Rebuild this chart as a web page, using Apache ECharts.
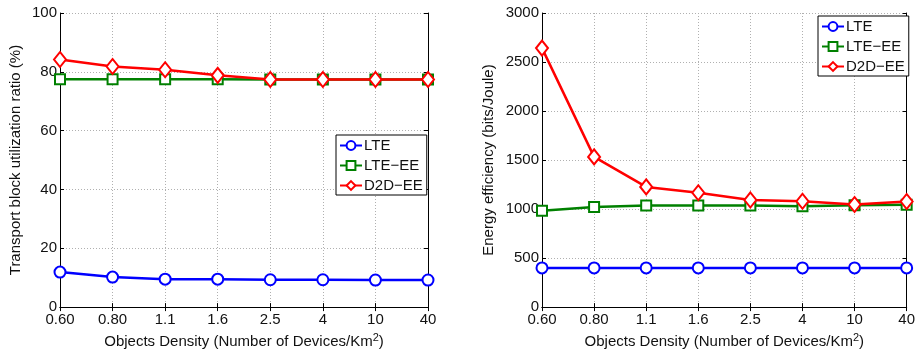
<!DOCTYPE html>
<html>
<head>
<meta charset="utf-8">
<script src="https://cdn.jsdelivr.net/npm/echarts@6/dist/echarts.min.js"></script>
<style>
html, body { margin: 0; padding: 0; background: #fff; }
#chart { width: 918px; height: 356px; }
</style>
</head>
<body>
<div id="chart"></div>
<script>
// Device density categories (devices per km^2)
const categories = ['0.60', '0.80', '1.1', '1.6', '2.5', '4', '10', '40'];
const seriesNames = ['LTE', 'LTE\u2212EE', 'D2D\u2212EE'];

// Transport block utilization ratio (%)
const utilLTE   = [11.9, 10.2, 9.5, 9.5, 9.3, 9.3, 9.2, 9.2];
const utilLTEEE = [77.5, 77.5, 77.5, 77.5, 77.4, 77.4, 77.4, 77.4];
const utilD2D   = [84.2, 81.8, 80.7, 78.8, 77.4, 77.4, 77.4, 77.4];

// Energy efficiency (bits/Joule)
const effLTE    = [400, 400, 400, 400, 400, 400, 400, 400];
const effLTEEE  = [984, 1020, 1037, 1037, 1037, 1030, 1040, 1043];
const effD2D    = [2642, 1532, 1226, 1166, 1093, 1080, 1047, 1077];

const FONT = 'Liberation Sans, Arial, Helvetica, sans-serif';
const TEXT = '#111';
const colors = ['#0000ff', '#008000', '#ff0000'];
const symbols = ['emptyCircle', 'emptyRect', 'emptyDiamond'];
const symbolSizes = [11, 10, [12, 15]];

const xTitle = {
  formatter: '{a|Objects Density (Number of Devices/Km}{s|2}{a|)}',
  rich: {
    a: { fontFamily: FONT, fontSize: 15, color: TEXT, verticalAlign: 'bottom', lineHeight: 17 },
    s: { fontFamily: FONT, fontSize: 11, color: TEXT, verticalAlign: 'top', padding: [0, 0, 8, 0], lineHeight: 17 }
  }
};

function xAxes(gi) {
  return [{
    type: 'category', gridIndex: gi, data: categories, boundaryGap: false,
    position: 'bottom',
    name: xTitle.formatter, nameLocation: 'middle', nameGap: 22,
    nameTextStyle: { rich: xTitle.rich },
    axisLine: { show: true, lineStyle: { color: '#000', width: 1 } },
    axisTick: { show: true, inside: true, length: 4, alignWithLabel: true, lineStyle: { color: '#000' } },
    axisLabel: { fontFamily: FONT, fontSize: 15, color: TEXT, margin: 5 },
    splitLine: { show: true, lineStyle: { color: '#b0b0b0', type: [1, 2], width: 1 } }
  }, {
    type: 'category', gridIndex: gi, data: categories, boundaryGap: false,
    position: 'top',
    axisLine: { show: true, lineStyle: { color: '#000', width: 1 } },
    axisTick: { show: true, inside: true, length: 4, lineStyle: { color: '#000' } },
    axisLabel: { show: false },
    splitLine: { show: false }
  }];
}

function yAxes(gi, max, interval, name, gap) {
  return [{
    type: 'value', gridIndex: gi, min: 0, max: max, interval: interval,
    position: 'left',
    name: name, nameLocation: 'middle', nameGap: gap,
    nameTextStyle: { fontFamily: FONT, fontSize: 15, color: TEXT },
    axisLine: { show: true, lineStyle: { color: '#000', width: 1 } },
    axisTick: { show: true, inside: true, length: 4, lineStyle: { color: '#000' } },
    axisLabel: { fontFamily: FONT, fontSize: 15, color: TEXT, margin: 3, formatter: v => String(v) },
    splitLine: { show: true, lineStyle: { color: '#b0b0b0', type: [1, 2], width: 1 } }
  }, {
    type: 'value', gridIndex: gi, min: 0, max: max, interval: interval,
    position: 'right',
    axisLine: { show: true, lineStyle: { color: '#000', width: 1 } },
    axisTick: { show: true, inside: true, length: 4, lineStyle: { color: '#000' } },
    axisLabel: { show: false },
    splitLine: { show: false }
  }];
}

function makeSeries(dataList, xi, yi) {
  return dataList.map((d, i) => ({
    name: seriesNames[i], type: 'line', data: d,
    xAxisIndex: xi, yAxisIndex: yi,
    symbol: symbols[i], symbolSize: symbolSizes[i], showAllSymbol: true,
    color: colors[i],
    lineStyle: { color: colors[i], width: 2.5 },
    itemStyle: { color: colors[i], borderColor: colors[i], borderWidth: 2.2 },
    z: 2 + i,
    animation: false
  }));
}

function legendAt(left, top) {
  return {
    data: seriesNames, left: left, top: top, orient: 'vertical',
    itemWidth: 22, itemHeight: 11, itemGap: 5,
    padding: [3, 4, 2, 3],
    backgroundColor: '#fff', borderColor: '#000', borderWidth: 1,
    textStyle: { fontFamily: FONT, fontSize: 15, color: TEXT, padding: [0, 0, 0, -3] },
    selectedMode: false
  };
}

const chart = echarts.init(document.getElementById('chart'), null, { renderer: 'canvas' });
chart.setOption({
  animation: false,
  backgroundColor: '#fff',
  grid: [
    { left: 60, top: 13, width: 368, height: 301 },
    { left: 542, top: 13, width: 368, height: 301 }
  ],
  xAxis: [...xAxes(0), ...xAxes(1)],
  yAxis: [
    ...yAxes(0, 100, 20, 'Transport block utilization ratio (%)', 37),
    ...yAxes(1, 3000, 500, 'Energy efficiency (bits/Joule)', 46)
  ],
  legend: [legendAt(336, 135), legendAt(818, 16)],
  series: [
    ...makeSeries([utilLTE, utilLTEEE, utilD2D], 0, 0),
    ...makeSeries([effLTE, effLTEEE, effD2D], 2, 2)
  ]
});
</script>
</body>
</html>
